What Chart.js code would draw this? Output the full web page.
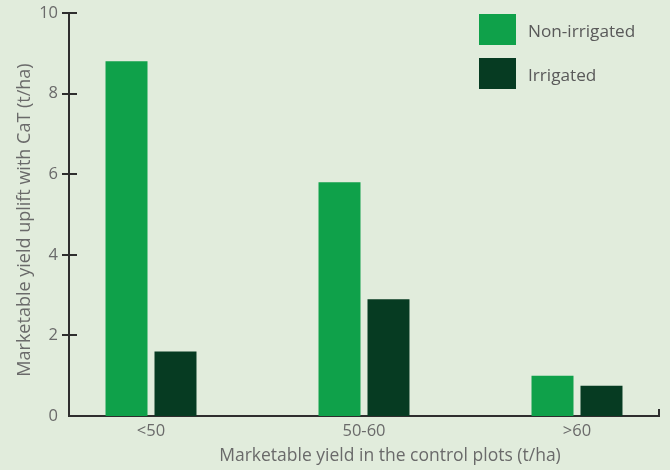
<!DOCTYPE html>
<html>
<head>
<meta charset="utf-8">
<script src="https://cdn.jsdelivr.net/npm/chart.js@4/dist/chart.umd.min.js"></script>
<style>
  html, body { margin: 0; padding: 0; background: #e1ecdc; }
  #wrap { width: 670px; height: 470px; position: relative; }
</style>
</head>
<body>
<div id="wrap"><canvas id="yieldChart"></canvas></div>
<script>
// datos
const categories = ['<50', '50-60', '>60'];
const nonIrrigated = [8.8, 5.8, 1.0];
const irrigated = [1.6, 2.9, 0.75];
const yTicks = [0, 2, 4, 6, 8, 10];
const xTitle = 'Marketable yield in the control plots (t/ha)';
const yTitle = 'Marketable yield uplift with CaT (t/ha)';

const FONT = '"Open Sans", sans-serif';
const TEXT = '#6a6a6a';
const AXIS = '#2e2e2e';

// marcas de eje que cruzan la linea, titulos de ejes y leyenda
const axisDecor = {
    id: 'axisDecor',
    afterDraw(chart) {
        const ctx = chart.ctx;
        const y = chart.scales.y, x = chart.scales.x;
        ctx.save();
        ctx.strokeStyle = AXIS;
        ctx.lineWidth = 2;
        yTicks.forEach(v => {
            if (v === 0) return;
            const py = Math.round(y.getPixelForValue(v));
            ctx.beginPath();
            ctx.moveTo(x.left - 7, py);
            ctx.lineTo(x.left + 8, py);
            ctx.stroke();
        });
        // tick final del eje x
        ctx.beginPath();
        ctx.moveTo(x.right, y.bottom + 1);
        ctx.lineTo(x.right, y.bottom - 7);
        ctx.stroke();

        // titulos (algo descentrados en el original)
        ctx.fillStyle = TEXT;
        ctx.textAlign = 'center';
        ctx.textBaseline = 'middle';
        ctx.font = '17.5px ' + FONT;
        ctx.fillText(xTitle, 390, 456);
        ctx.save();
        ctx.translate(25, 220);
        ctx.rotate(-Math.PI / 2);
        ctx.font = '18px ' + FONT;
        ctx.fillText(yTitle, 0, 0);
        ctx.restore();

        // leyenda
        ctx.font = '17.2px ' + FONT;
        ctx.textAlign = 'left';
        chart.data.datasets.forEach((ds, i) => {
            const top = 14 + i * 44;
            ctx.fillStyle = ds.backgroundColor;
            ctx.fillRect(479, top, 37, 31);
            ctx.fillStyle = '#595959';
            ctx.fillText(ds.label, 528, top + 18);
        });
        ctx.restore();
    }
};

new Chart(document.getElementById('yieldChart'), {
    type: 'bar',
    data: {
        datasets: [{
            label: 'Non-irrigated',
            data: categories.map((c, i) => ({ x: i, y: nonIrrigated[i] })),
            backgroundColor: '#0fa14a'
        },
        {
            label: 'Irrigated',
            data: categories.map((c, i) => ({ x: i, y: irrigated[i] })),
            backgroundColor: '#063b22'
        }]
    },
    options: {
        responsive: true,
        maintainAspectRatio: false,
        animation: false,
        categoryPercentage: 0.46,
        barPercentage: 0.857,
        layout: { autoPadding: false, padding: { top: 13, right: 11, left: 0, bottom: 0 } },
        scales: {
            x: {
                type: 'linear',
                offset: false,
                min: -0.385,
                max: 2.385,
                afterBuildTicks: s => { s.ticks = categories.map((c, i) => ({ value: i })); },
                afterFit: s => { s.height = 54; s.paddingLeft = 0; s.paddingRight = 0; },
                grid: { display: false, drawTicks: false },
                border: { display: true, color: AXIS, width: 2 },
                ticks: {
                    callback: v => categories[v],
                    color: TEXT,
                    font: { family: FONT, size: 16.5 },
                    padding: 5
                }
            },
            y: {
                min: 0,
                max: 10,
                afterBuildTicks: s => { s.ticks = yTicks.map(v => ({ value: v })); },
                afterFit: s => { s.width = 69; s.paddingTop = 0; s.paddingBottom = 0; },
                grid: { display: false, drawTicks: false },
                border: { display: true, color: AXIS, width: 2 },
                ticks: {
                    color: TEXT,
                    font: { family: FONT, size: 16.5 },
                    padding: 11
                }
            }
        },
        plugins: {
            legend: { display: false },
            tooltip: { enabled: false }
        }
    },
    plugins: [axisDecor]
});
</script>
</body>
</html>
